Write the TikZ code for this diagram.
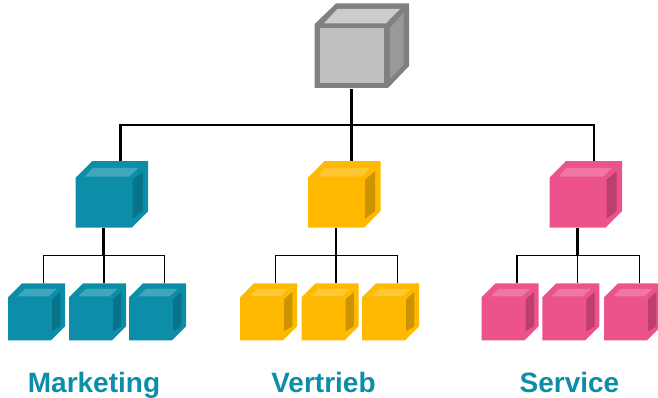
\documentclass[tikz,border=0pt]{standalone}
\usepackage{fontspec}
\setmainfont{Liberation Sans}
\definecolor{mktfill}{HTML}{0C8EA9}
\definecolor{mktside}{HTML}{07748C}
\definecolor{mkttop}{HTML}{3FA6BC}
\definecolor{vtrfill}{HTML}{FFB900}
\definecolor{vtrside}{HTML}{CC9400}
\definecolor{vtrtop}{HTML}{FFC733}
\definecolor{svcfill}{HTML}{EC538D}
\definecolor{svcside}{HTML}{BC3F70}
\definecolor{svctop}{HTML}{F077A4}
\definecolor{rootedge}{HTML}{808080}
\definecolor{rootfill}{HTML}{C0C0C0}
\definecolor{rootside}{HTML}{999999}
\definecolor{roottop}{HTML}{CCCCCC}
\tikzset{
        front/.style={inner sep=0pt, outer sep=0pt, anchor=south west},
        trunk/.style={black, line width=2.2pt},
        branch/.style={black, line width=1.2pt},
        teamlabel/.style={text=mktfill, font=\fontsize{21}{25}\selectfont\bfseries, inner sep=0pt, anchor=base},
    }
% name, left, bottom, width, height, depth, colour prefix
\newcommand{\cubebox}[7]{
    \node[front, minimum width=#4*0.75pt, minimum height=#5*0.75pt] (#1) at (#2,#3) {};
    \fill[#7fill] (#1.north west) -- ++(#6,-#6) -- ++(#4,0) -- ++(0,#5) -- (#1.south east) -- (#1.south west) -- cycle;
    \fill[#7top] ([shift={(9.3,-1)}]#1.north west) -- ([shift={(17,-0.6*#6)}]#1.north west) -- ([shift={(0.4*#6,-0.6*#6)}]#1.north east) -- ([shift={(-2.4,-1)}]#1.north east) -- cycle;
    \fill[#7side] ([shift={(1,2)}]#1.north east) -- ([shift={(0.67*#6,-0.38*#6)}]#1.north east) -- ([shift={(0.67*#6,-#6)}]#1.south east) -- ([shift={(1,-9)}]#1.south east) -- cycle;
    \coordinate (#1-top) at ([shift={(#6,-#6)}]#1.north);
}
\begin{document}
\begin{tikzpicture}[x = 0.75pt, y = -0.75pt]
                \useasboundingbox (0,0) rectangle (658,398);
                % grey box on top
                \fill[rootedge] (314.7,24) -- (336,3.5) -- (409,3.5) -- (409,66) -- (388,88) -- (314.7,88) -- cycle;
                \node[front, anchor=center, fill=rootfill, minimum width=48pt, minimum height=40.8pt] (root) at (351.6,55.5) {};
                \fill[roottop] (324,23.3) -- (337.3,9) -- (400,9) -- (386,23.3) -- cycle;
                \fill[rootside] (390,28) -- (403.5,13) -- (403.5,65) -- (390,79) -- cycle;
                % departments
                \foreach \nm/\xa/\xb/\xc/\xd in {mkt/75.7/8/69/129, vtr/308/240/301.5/362, svc/549.5/481.7/542.3/604}
                {
                    \cubebox{\nm}{\xa}{227.7}{56}{50}{16.5}{\nm}
                    \cubebox{\nm1}{\xb}{340.3}{43}{43}{14}{\nm}
                    \cubebox{\nm2}{\xc}{340.3}{43}{43}{14}{\nm}
                    \cubebox{\nm3}{\xd}{340.3}{43}{43}{14}{\nm}
                    \coordinate (\nm-bus) at ([shift={(0,28)}]\nm.south);
                    \draw[trunk] (\nm.south) -- (\nm-bus);
                    \draw[branch] (\nm1-top) |- (\nm-bus) -| (\nm3-top);
                    \draw[branch] (\nm-bus) -- (\nm-bus |- \nm2-top);
                }
                \coordinate (rootbus) at (351.6,125);
                \draw[trunk] ([shift={(0,6)}]root.south) -- (rootbus);
                \draw[trunk] (mkt-top) |- (rootbus) -| (svc-top);
                \draw[trunk] (rootbus) -- (rootbus |- vtr-top);
                \node[teamlabel] (marketing) at (94,392.5) {Marketing};
                \node[teamlabel] (vertrieb) at (323.5,392.5) {Vertrieb};
                \node[teamlabel] (service) at (569.5,392.5) {Service};
            \end{tikzpicture}
\end{document}
